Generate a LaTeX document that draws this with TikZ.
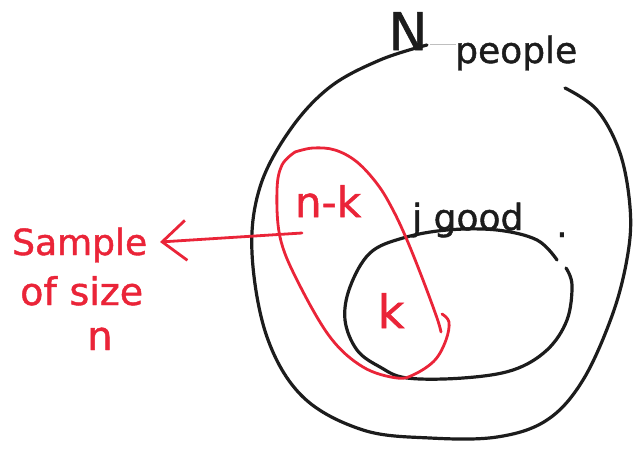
\documentclass[tikz,border=0pt]{standalone}
\usepackage{fontspec}
\setmainfont{DejaVu Sans}
\newfontfamily\handfont{DejaVu Sans}[FakeBold=1.2]
\usetikzlibrary{arrows.meta}
\definecolor{pen}{RGB}{28,28,28}
\definecolor{handred}{RGB}{234,36,56}
\tikzset{
  blackline/.style={draw=pen, line width=3.2pt, line cap=round, line join=round},
  redline/.style={draw=handred, line width=2.8pt, line cap=round, line join=round},
  blacktext/.style={text=pen, inner sep=0pt},
  redtext/.style={text=handred, inner sep=0pt},
}
\begin{document}
\begin{tikzpicture}[x=1pt,y=-1pt]
\useasboundingbox (0,0) rectangle (640,450);
% big circle (N people)
\draw[blackline] plot[smooth, tension=0.6] coordinates {(565,88) (597,110) (620,153) (630,207) (628,253) (613,313) (583,380) (547,420) (497,437) (430,438) (363,430) (303,397) (267,337) (252,253) (260,187) (290,130) (330,87) (380,60) (427,45)};
\draw[draw=black!25, line width=1pt] (430,44) -- (456,44);
% j good ellipse
\draw[blackline] plot[smooth, tension=0.6] coordinates {(557,260) (537,240) (497,230) (447,230) (403,238) (370,253) (350,287) (345,320) (357,350) (380,367) (407,378) (463,378) (513,370) (547,350) (567,320) (572,285) (566,268)};
% red sample loop
\draw[redline] plot[smooth, tension=0.6] coordinates {(295,152) (313,148) (335,150) (357,162) (378,185) (393,210) (407,240) (423,280) (437,318) (441,332)};
\draw[redline] plot[smooth, tension=0.6] coordinates {(442,314) (449,322) (446,340) (435,360) (415,374) (397,378) (363,367) (330,337) (297,280) (280,237) (277,190) (282,165) (295,152)};
% labels
\node[blacktext, font=\handfont\fontsize{52}{52}\selectfont, anchor=base] (N) at (408,50) {N};
\node[blacktext, font=\handfont\fontsize{36}{36}\selectfont, anchor=base west] (people) at (455,63) {people};
\node[blacktext, font=\handfont\fontsize{36}{36}\selectfont, anchor=base west] (good) at (412,230) {j good};
\node[blacktext, font=\handfont\fontsize{36}{36}\selectfont, anchor=base west] (dot) at (556,237) {.};
\node[redtext, font=\handfont\fontsize{42}{42}\selectfont, anchor=base] (nk) at (328,217) {n-k};
\node[redtext, font=\handfont\fontsize{46}{46}\selectfont, anchor=base] (k) at (391,328) {k};
\node[redtext, font=\handfont\fontsize{36}{36}\selectfont, anchor=base west] (s1) at (12,255) {Sample};
\node[redtext, font=\handfont\fontsize{38}{38}\selectfont, anchor=base west] (s2) at (20,305) {of\,\,size};
\node[redtext, font=\handfont\fontsize{40}{40}\selectfont, anchor=base] (s3) at (100,350) {n};
% arrow
\coordinate (from) at (302,233);
\coordinate (tip) at (160,242);
\draw[redline, -{Straight Barb[length=24pt, width=40pt, line width=2.8pt]}] (from) -- (tip);
\end{tikzpicture}
\end{document}
